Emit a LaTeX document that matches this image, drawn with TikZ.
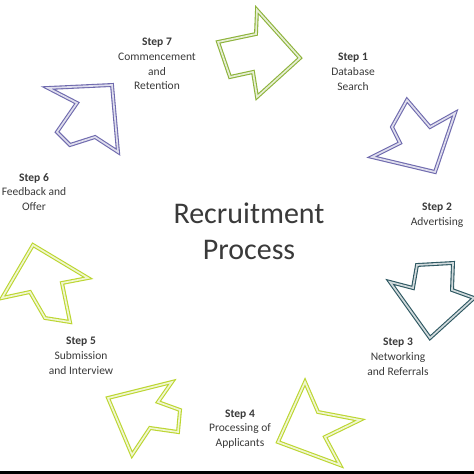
\documentclass[tikz,border=0pt]{standalone}
\usepackage{fontspec}
\setmainfont{Carlito}
\definecolor{olivegreen}{HTML}{8DB33A}
\definecolor{limegreen}{HTML}{BCD630}
\definecolor{lavender}{HTML}{6F6AAE}
\definecolor{slateteal}{HTML}{2E5862}
\definecolor{textgray}{HTML}{3A3A3A}
\tikzset{
  blockarrow/.style={draw=#1, line width=1.1pt, double=#1!22, double distance=1.7pt, line join=miter},
  steplabel/.style={align=center, text=textgray, font=\fontsize{11.5}{14.8}\selectfont, inner sep=0pt},
  titlelabel/.style={align=center, text=textgray, font=\fontsize{30}{36}\selectfont, inner sep=0pt}
}
\begin{document}
\begin{tikzpicture}[x=1pt,y=-1pt]
\useasboundingbox (0,0) rectangle (474,474);
\fill[white] (0,0) rectangle (474,474);
\fill[black] (0,471) rectangle (474,474);

% arrows
\draw[blockarrow=olivegreen] (218,42) -- (256,34) -- (257,10) -- (300,58) -- (257,97) -- (253,72) -- (230,77) -- cycle;
\draw[blockarrow=lavender] (392,127) -- (407,100) -- (430,127) -- (455,113) -- (435,172) -- (372,157) -- (400,143) -- cycle;
\draw[blockarrow=slateteal] (417,265) -- (453,263) -- (452,290) -- (474,298) -- (430,338) -- (390,282) -- (413,288) -- cycle;
\draw[blockarrow=limegreen] (305,382) -- (318,412) -- (360,420) -- (325,437) -- (340,465) -- (278,442) -- cycle;
\draw[blockarrow=limegreen] (108,398) -- (172,382) -- (158,402) -- (180,410) -- (178,432) -- (150,428) -- (132,455) -- cycle;
\draw[blockarrow=limegreen] (33,245) -- (88,278) -- (62,283) -- (70,322) -- (45,318) -- (30,292) -- (2,298) -- cycle;
\draw[blockarrow=lavender] (48,88) -- (112,85) -- (118,152) -- (95,137) -- (70,145) -- (57,132) -- (77,103) -- cycle;

% labels
\node[steplabel] (s7) at (157,64) {\textbf{Step 7}\\Commencement\\and\\Retention};
\node[steplabel] (s1) at (353,72) {\textbf{Step 1}\\Database\\Search};
\node[steplabel] (s6) at (34,192) {\textbf{Step 6}\\Feedback and\\Offer};
\node[steplabel] (s2) at (437,215) {\textbf{Step 2}\\Advertising};
\node[steplabel] (s5) at (81,356) {\textbf{Step 5}\\Submission\\and Interview};
\node[steplabel] (s3) at (398,357) {\textbf{Step 3}\\Networking\\and Referrals};
\node[steplabel] (s4) at (240,429) {\textbf{Step 4}\\Processing of\\Applicants};
\node[titlelabel] (title) at (249,231) {Recruitment\\Process};
\end{tikzpicture}
\end{document}
